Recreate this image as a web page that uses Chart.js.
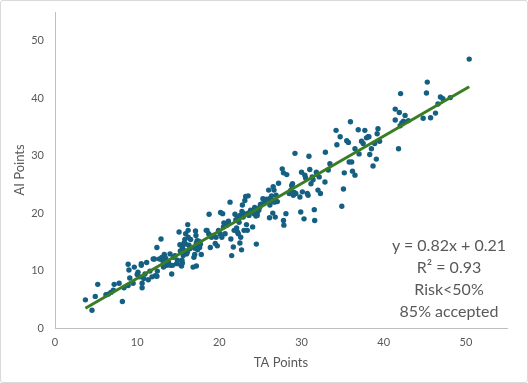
<!DOCTYPE html>
<html>
<head>
<meta charset="utf-8">
<script src="https://cdn.jsdelivr.net/npm/chart.js@4.4.1/dist/chart.umd.min.js"></script>
<style>
  html, body { margin: 0; padding: 0; background: #fff; }
  #wrap {
    position: relative;
    width: 528px; height: 383px;
    box-sizing: border-box;
    border: 1px solid #d9d9d9;
    border-radius: 3px;
    font-family: Lato, "Open Sans", sans-serif;
  }
  #note {
    position: absolute;
    left: 377px; top: 233px; width: 142px;
    text-align: center;
    color: #595959;
    font-size: 16px;
    line-height: 22px;
  }
</style>
</head>
<body>
<div id="wrap">
  <canvas id="chart"></canvas>
  <div id="note">
    <div>y = 0.82x + 0.21</div>
    <div>R² = 0.93</div>
    <div>Risk&lt;50%</div>
    <div>85% accepted</div>
  </div>
</div>
<script>
// TA points (x) and AI points (y)
var taPoints = [
    3.7, 4.5, 4.9, 5.2, 6.2, 6.5, 6.8, 7.1, 7.2, 7.8,
    8.2, 8.4, 8.9, 9.0, 9.1, 8.9, 9.5, 9.65, 10.0, 10.1,
    10.3, 10.5, 10.5, 10.6, 10.6, 10.8, 10.95, 11.15, 11.35, 11.55,
    11.8, 11.95, 12.1, 12.2, 12.4, 12.45, 12.4, 12.7, 12.9, 13.0,
    13.1, 13.2, 13.3, 13.4, 13.6, 13.8, 14.0, 14.2, 14.3, 14.4,
    14.6, 14.8, 14.9, 15.1, 15.2, 15.25, 15.4, 15.45, 15.5, 15.6,
    15.7, 15.8, 15.9, 16.0, 16.15, 16.2, 16.2, 16.3, 16.4, 16.5,
    16.8, 16.9, 17.0, 17.1, 17.15, 17.2, 17.2, 17.35, 17.4, 17.5,
    17.6, 17.8, 18.4, 18.5, 18.7, 18.75, 18.9, 19.05, 19.25, 19.5,
    19.6, 19.75, 19.9, 20.1, 20.15, 20.3, 20.4, 20.5, 20.55, 20.7,
    20.9, 21.05, 21.1, 21.3, 21.4, 21.5, 21.7, 21.8, 21.9, 22.0,
    22.1, 22.2, 22.3, 22.4, 22.5, 22.6, 22.7, 22.75, 22.8, 22.9,
    23.0, 23.1, 23.2, 23.3, 23.5, 23.4, 23.5, 23.8, 24.05, 24.2,
    24.3, 24.45, 24.5, 24.6, 24.8, 24.9, 25.0, 25.2, 25.3, 25.75,
    26.0, 26.1, 26.15, 26.25, 26.35, 26.5, 26.55, 26.65, 26.75, 26.8,
    26.9, 27.05, 27.2, 27.65, 27.8, 27.8, 27.85, 28.1, 28.2, 28.5,
    28.7, 28.8, 28.9, 29.0, 29.1, 29.2, 29.3, 29.8, 29.9, 30.0,
    30.1, 30.3, 30.4, 30.5, 30.7, 30.8, 30.9, 31.0, 31.15, 31.3,
    31.4, 31.55, 31.6, 31.8, 31.9, 32.0, 32.15, 32.3, 32.85, 32.9,
    33.25, 33.45, 34.2, 34.3, 34.7, 34.9, 35.1, 35.2, 35.5, 35.7,
    35.8, 35.95, 36.1, 36.2, 36.5, 36.5, 36.9, 37.0, 37.3, 37.5,
    37.7, 37.9, 38.1, 38.2, 38.3, 38.5, 38.7, 38.9, 39.1, 39.2,
    39.3, 39.5, 41.4, 41.4, 41.8, 41.9, 42.0, 42.05, 42.2, 42.4,
    42.6, 43.0, 44.8, 45.2, 45.3, 45.7, 46.3, 46.6, 46.9, 47.2,
    48.1, 50.4, 13.2, 13.5, 13.9, 14.1, 15.3, 15.5, 15.7, 15.9,
    16.1, 17.0, 17.3, 17.7, 22.2, 22.5, 23.0, 23.6, 24.1, 24.6,
    25.5, 26.2, 26.7
];
var aiPoints = [
    4.9, 3.1, 5.5, 7.6, 5.8, 5.9, 6.2, 6.6, 7.6, 7.8,
    4.6, 7.0, 11.1, 10.1, 8.7, 7.4, 7.8, 10.6, 9.3, 9.7,
    8.9, 10.9, 11.2, 7.8, 7.0, 8.6, 9.4, 11.4, 8.4, 9.9,
    8.9, 12.0, 12.0, 9.1, 14.0, 9.9, 9.0, 12.0, 15.5, 12.3,
    11.8, 10.6, 12.8, 12.3, 10.9, 11.5, 12.9, 9.4, 10.9, 12.3,
    12.6, 11.2, 11.8, 16.7, 14.5, 13.4, 10.8, 11.8, 14.0, 12.6,
    14.8, 15.4, 16.4, 12.9, 18.0, 17.0, 15.8, 14.4, 13.8, 15.4,
    10.6, 12.3, 12.8, 16.9, 16.1, 14.8, 10.8, 13.6, 14.2, 15.1,
    14.0, 12.8, 17.0, 17.0, 16.4, 19.8, 14.0, 15.8, 16.1, 14.7,
    15.8, 14.3, 17.0, 16.4, 20.1, 15.8, 19.9, 17.6, 18.3, 16.4,
    17.9, 18.4, 18.6, 21.9, 15.5, 12.6, 14.1, 17.0, 19.8, 18.8,
    17.4, 16.7, 16.4, 18.4, 14.8, 15.8, 13.6, 20.3, 21.4, 19.3,
    17.0, 22.2, 22.9, 18.0, 23.0, 17.0, 20.0, 20.5, 17.6, 19.9,
    21.0, 19.5, 14.6, 20.0, 20.5, 21.0, 21.5, 21.6, 22.5, 22.4,
    24.0, 19.2, 21.4, 22.0, 23.0, 20.0, 24.6, 24.0, 22.2, 19.3,
    23.1, 22.0, 25.2, 27.7, 27.0, 18.7, 17.9, 19.9, 26.7, 23.4,
    24.0, 24.8, 25.1, 23.1, 23.6, 30.4, 23.4, 22.8, 20.2, 27.1,
    23.7, 19.0, 26.6, 26.1, 23.4, 23.1, 29.9, 27.6, 25.1, 26.3,
    25.8, 20.6, 18.7, 27.1, 26.7, 24.0, 26.3, 23.4, 25.4, 30.6,
    27.5, 28.6, 34.4, 31.9, 33.3, 21.2, 24.2, 27.0, 32.6, 32.3,
    28.9, 35.9, 28.9, 27.3, 26.6, 31.2, 34.5, 30.3, 32.5, 32.1,
    34.4, 33.1, 33.3, 33.3, 30.2, 31.2, 28.2, 32.1, 29.4, 33.8,
    34.7, 32.5, 38.1, 36.2, 31.2, 37.5, 35.2, 40.8, 35.7, 36.0,
    37.0, 36.1, 36.5, 40.9, 42.8, 36.6, 37.4, 39.0, 40.2, 39.9,
    40.1, 46.8, 11.5, 12.0, 11.0, 10.9, 11.0, 11.3, 13.5, 14.6,
    13.2, 13.9, 15.2, 14.6, 19.2, 19.6, 19.9, 19.6, 20.4, 19.6,
    21.8, 22.6, 21.9
];
var axisTicks = [0, 10, 20, 30, 40, 50];
var axisMax = 55;

var scatter = [];
for (var i = 0; i < taPoints.length; i++) {
    scatter.push({ x: taPoints[i], y: aiPoints[i] });
}

// least squares line through the data, drawn from the smallest to the largest x
function fitLine(xs, ys) {
    var n = xs.length, sx = 0, sy = 0, sxy = 0, sxx = 0;
    for (var i = 0; i < n; i++) {
        sx += xs[i]; sy += ys[i];
        sxy += xs[i] * ys[i]; sxx += xs[i] * xs[i];
    }
    var slope = (n * sxy - sx * sy) / (n * sxx - sx * sx);
    return { slope: slope, intercept: (sy - slope * sx) / n };
}
var fit = fitLine(taPoints, aiPoints);
var xLo = Math.min.apply(null, taPoints);
var xHi = Math.max.apply(null, taPoints);
var trend = [
    { x: xLo, y: fit.slope * xLo + fit.intercept },
    { x: xHi, y: fit.slope * xHi + fit.intercept }
];

var grey = '#595959';

function keepTicks(scale) {
    scale.ticks = axisTicks.map(function (v) { return { value: v }; });
}

function axis(title, titlePad, tickPad, fit) {
    return {
        type: 'linear',
        min: 0,
        max: axisMax,
        afterBuildTicks: keepTicks,
        afterFit: fit,
        grid: { display: false, drawTicks: false },
        border: { display: true, color: '#bfbfbf', width: 1 },
        ticks: {
            color: grey,
            padding: tickPad,
            font: { family: 'Lato', size: 11 }
        },
        title: {
            display: true,
            text: title,
            color: grey,
            font: { family: 'Lato', size: 13 },
            padding: titlePad
        }
    };
}

new Chart(document.getElementById('chart'), {
    type: 'scatter',
    data: {
        datasets: [
            {
                type: 'line',
                data: trend,
                borderColor: '#3a7d22',
                borderWidth: 3,
                pointRadius: 0,
                fill: false,
                order: 0
            },
            {
                data: scatter,
                backgroundColor: '#156082',
                borderColor: '#156082',
                borderWidth: 0,
                pointRadius: 2.7,
                order: 1
            }
        ]
    },
    options: {
        responsive: true,
        maintainAspectRatio: false,
        animation: false,
        layout: { padding: { top: 11, right: 20, left: 0, bottom: 0 } },
        plugins: {
            legend: { display: false },
            tooltip: { enabled: false }
        },
        scales: {
            x: axis('TA Points', { top: 0, bottom: 11 }, 8, function (s) {
                s.height = 54;
                s.paddingLeft = 0; s.paddingRight = 0;
            }),
            y: axis('AI Points', { top: 11, bottom: 0 }, 11, function (s) {
                s.width = 54;
                s.paddingTop = 0; s.paddingBottom = 0;
            })
        }
    }
});
</script>
</body>
</html>
